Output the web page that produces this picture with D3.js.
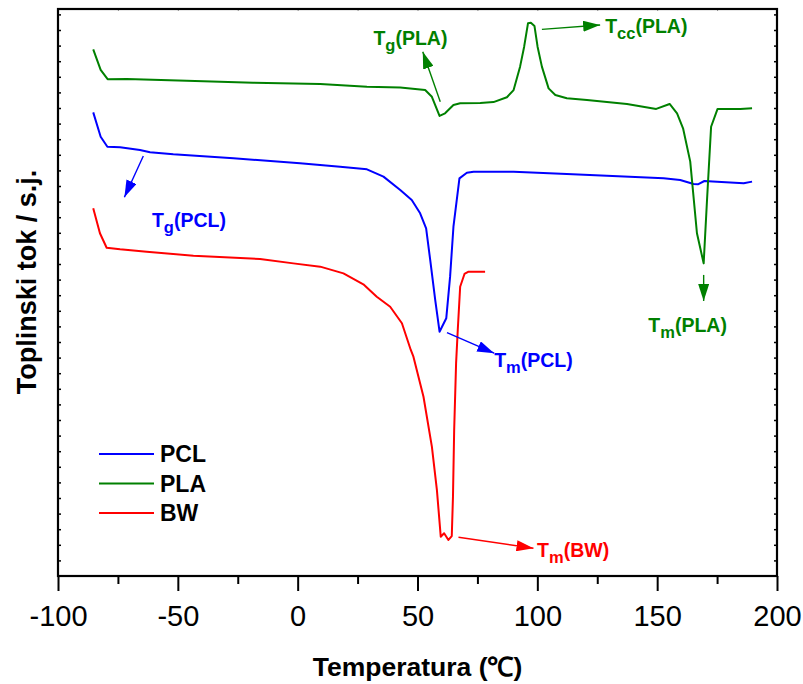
<!DOCTYPE html>
<html>
<head>
<meta charset="utf-8">
<script src="https://cdn.jsdelivr.net/npm/d3@7"></script>
<style>
  html, body { margin: 0; padding: 0; background: #fff; }
  svg { display: block; font-family: "Liberation Sans", Arial, sans-serif; }
</style>
</head>
<body>
<svg id="chart" width="803" height="684"></svg>
<script>
// ---- Data (temperature in °C, heat flow in arbitrary units, curves offset) ----
const seriesNames = ["PCL", "PLA", "BW"];
const seriesColors = ["#0000ff", "#008000", "#ff0000"];

const pclT = [-85.3, -82.2, -79.4, -74.1, -65.8, -61.6, -51.9, -26.8, 1.0, 17.7, 28.9, 35.8, 42.8, 47.6, 51.1, 53.6, 55.3, 57.4, 59.2, 62.0, 63.6, 65.0, 67.5, 70.6, 73.4, 90.1, 112.3, 129.0, 152.7, 159.6, 165.2, 167.0, 169.7, 175.0, 186.1, 189.6];
const pclH = [29.72, 28.16, 27.52, 27.48, 27.31, 27.16, 27.03, 26.78, 26.46, 26.24, 26.07, 25.60, 24.74, 24.10, 23.25, 22.29, 20.26, 17.69, 15.66, 16.52, 19.19, 22.39, 25.49, 25.85, 25.92, 25.92, 25.77, 25.66, 25.49, 25.38, 25.13, 25.11, 25.32, 25.28, 25.17, 25.28];

const plaT = [-85.3, -82.2, -79.3, -71.3, -46.3, -18.6, 9.4, 28.9, 42.8, 53.2, 56.0, 59.2, 61.5, 65.0, 67.8, 76.2, 81.7, 87.3, 90.1, 92.8, 94.5, 96.1, 97.3, 98.8, 100.1, 101.9, 104.7, 107.5, 112.3, 120.7, 137.4, 149.6, 155.2, 158.3, 160.8, 163.8, 166.6, 169.4, 170.8, 172.5, 175.2, 184.7, 189.6];
const plaH = [33.76, 32.44, 31.85, 31.86, 31.75, 31.62, 31.54, 31.37, 31.31, 31.15, 30.72, 29.49, 29.66, 30.19, 30.30, 30.32, 30.38, 30.69, 31.15, 32.65, 33.93, 35.43, 35.47, 35.26, 33.93, 32.65, 31.26, 30.83, 30.62, 30.51, 30.26, 29.94, 30.26, 29.66, 28.70, 26.56, 21.97, 20.04, 24.10, 28.80, 29.94, 29.94, 29.98];

const bwT = [-85.3, -82.5, -79.7, -74.1, -63.0, -43.5, -15.7, -1.8, 9.4, 19.1, 27.4, 33.0, 38.6, 43.5, 47.2, 48.3, 52.5, 56.0, 58.1, 59.7, 61.1, 62.9, 64.3, 64.8, 65.3, 66.1, 66.8, 67.8, 69.6, 71.3, 78.2];
const bwH = [23.57, 21.97, 21.04, 20.94, 20.79, 20.53, 20.32, 20.04, 19.83, 19.40, 18.70, 17.90, 17.26, 16.20, 14.49, 14.06, 11.49, 8.29, 5.51, 2.52, 2.74, 2.31, 2.56, 5.08, 9.36, 13.63, 15.77, 18.54, 19.36, 19.51, 19.51];

// x-axis ticks
const xMajorTicks = [-100, -50, 0, 50, 100, 150, 200];
const xTickLabels = ["-100", "-50", "0", "50", "100", "150", "200"];
const xMinorTicks = [-75, -25, 25, 75, 125, 175];

// annotations
const annLabels = ["T", "T", "T", "T", "T", "T"];
const annSubs = ["g", "g", "cc", "m", "m", "m"];
const annRest = ["(PCL)", "(PLA)", "(PLA)", "(PLA)", "(PCL)", "(BW)"];
const annSeries = [0, 1, 1, 1, 0, 2];
const annTailT = [-64.4, 59.5, 101.9, 169.4, 62.3, 67.1];
const annTailH = [26.92, 30.40, 35.04, 19.30, 15.60, 2.48];
const annTipT = [-72.3, 52.2, 126.2, 169.4, 82.0, 98.4];
const annTipH = [24.28, 33.61, 35.32, 17.63, 14.28, 1.78];
const annTextT = [-60.8, 31.6, 128.3, 146.3, 82.0, 99.9];
const annTextH = [22.39, 34.04, 34.79, 15.66, 13.42, 1.24];

// ---- Layout ----
const svg = d3.select("#chart");
const L = 58, R = 777, T = 9, B = 576;
const x = d3.scaleLinear().domain([-100, 200]).range([L, R]);
const y = d3.scaleLinear().domain([0, (B - T) / 15.6]).range([B, T]);
const yTicks = d3.range(1, 37);

// y ticks (inward), left and right
svg.append("g").attr("transform", `translate(${L},0)`)
  .call(d3.axisLeft(y).tickValues(yTicks).tickSize(-3).tickFormat(""))
  .call(g => g.select(".domain").remove())
  .call(g => g.selectAll("line").attr("stroke", "#000").attr("stroke-width", 1.5));
svg.append("g").attr("transform", `translate(${R},0)`)
  .call(d3.axisRight(y).tickValues(yTicks).tickSize(-3).tickFormat(""))
  .call(g => g.select(".domain").remove())
  .call(g => g.selectAll("line").attr("stroke", "#000").attr("stroke-width", 1.5));
// top ticks
svg.append("g").attr("transform", `translate(0,${T})`)
  .call(d3.axisTop(x).tickValues(xMajorTicks.concat(xMinorTicks)).tickSize(-2).tickFormat(""))
  .call(g => g.select(".domain").remove())
  .call(g => g.selectAll("line").attr("stroke", "#999").attr("stroke-width", 1));

// bottom axis
svg.append("g").attr("transform", `translate(0,${B})`)
  .call(d3.axisBottom(x).tickValues(xMinorTicks).tickSize(8).tickFormat(""))
  .call(g => g.select(".domain").remove())
  .call(g => g.selectAll("line").attr("stroke", "#000").attr("stroke-width", 2));
svg.append("g").attr("transform", `translate(0,${B})`)
  .call(d3.axisBottom(x).tickValues(xMajorTicks).tickSize(15).tickPadding(14)
    .tickFormat((d, i) => xTickLabels[i]))
  .call(g => g.select(".domain").remove())
  .call(g => g.selectAll("line").attr("stroke", "#000").attr("stroke-width", 2))
  .call(g => g.selectAll("text").attr("fill", "#000")
    .attr("font-size", 29).attr("font-family", '"Liberation Sans", Arial, sans-serif'));

// frame
svg.append("rect").attr("x", L).attr("y", T).attr("width", R - L).attr("height", B - T)
  .attr("fill", "none").attr("stroke", "#000").attr("stroke-width", 2.2);

// curves
const line = d3.line().x(d => x(d[0])).y(d => y(d[1]));
const seriesData = [
  d3.zip(pclT, pclH),
  d3.zip(plaT, plaH),
  d3.zip(bwT, bwH)
];
seriesData.forEach((data, i) => {
  svg.append("path").datum(data)
    .attr("d", line)
    .attr("fill", "none")
    .attr("stroke", seriesColors[i])
    .attr("stroke-width", 2)
    .attr("stroke-linejoin", "round");
});

// annotations
const defs = svg.append("defs");
seriesColors.forEach((c, i) => {
  defs.append("marker").attr("id", "arr" + i)
    .attr("viewBox", "0 0 17 11").attr("refX", 17).attr("refY", 5.5)
    .attr("markerWidth", 17).attr("markerHeight", 11)
    .attr("markerUnits", "userSpaceOnUse").attr("orient", "auto")
    .append("path").attr("d", "M0,0 L17,5.5 L0,11 Z").attr("fill", c);
});
annLabels.forEach((lab, i) => {
  const c = seriesColors[annSeries[i]];
  svg.append("line")
    .attr("x1", x(annTailT[i])).attr("y1", y(annTailH[i]))
    .attr("x2", x(annTipT[i])).attr("y2", y(annTipH[i]))
    .attr("stroke", c).attr("stroke-width", 1.4)
    .attr("marker-end", `url(#arr${annSeries[i]})`);
  const t = svg.append("text")
    .attr("x", x(annTextT[i])).attr("y", y(annTextH[i]))
    .attr("fill", c).attr("font-weight", "bold").attr("font-size", 19.5);
  t.append("tspan").text(lab);
  t.append("tspan").attr("font-size", 16.5).attr("dy", 6).text(annSubs[i]);
  t.append("tspan").attr("dy", -6).text(annRest[i]);
});

// legend
const legY = [454, 483.5, 513];
seriesNames.forEach((n, i) => {
  svg.append("line").attr("x1", 99).attr("x2", 154).attr("y1", legY[i]).attr("y2", legY[i])
    .attr("stroke", seriesColors[i]).attr("stroke-width", 2);
  svg.append("text").attr("x", 160).attr("y", legY[i] + 8.3)
    .attr("font-size", 23).attr("font-weight", "bold").attr("fill", "#000").text(n);
});

// axis titles
svg.append("text").attr("x", (L + R) / 2).attr("y", 676)
  .attr("text-anchor", "middle").attr("font-size", 26.5).attr("font-weight", "bold")
  .text("Temperatura (℃)");
svg.append("text").attr("transform", "translate(36,282) rotate(-90)")
  .attr("text-anchor", "middle").attr("font-size", 27).attr("font-weight", "bold")
  .text("Toplinski tok / s.j.");
</script>
</body>
</html>
